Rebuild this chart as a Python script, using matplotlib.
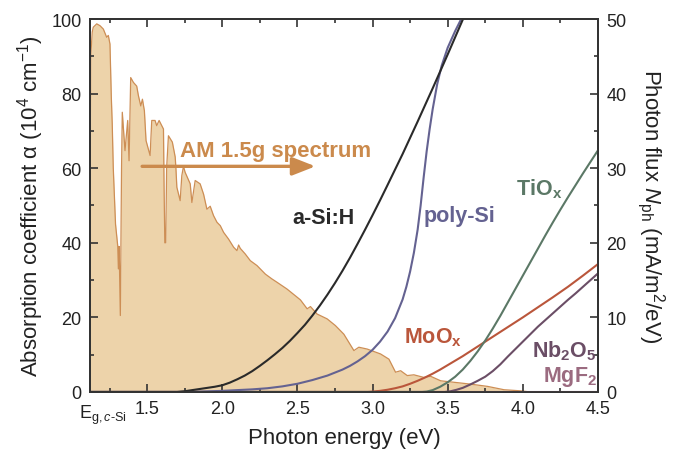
import numpy as np
import matplotlib
matplotlib.use('Agg')
import matplotlib.pyplot as plt
from matplotlib.ticker import MultipleLocator, FixedLocator

plt.rcParams['font.family'] = ['Liberation Sans', 'DejaVu Sans']
plt.rcParams['mathtext.fontset'] = 'custom'
plt.rcParams['mathtext.rm'] = 'Liberation Sans'
plt.rcParams['mathtext.it'] = 'Liberation Sans:italic'
plt.rcParams['mathtext.bf'] = 'Liberation Sans:bold'

# AM 1.5g photon flux (mA/m^2/eV) vs photon energy (eV)
am_E = [1.120, 1.125, 1.135, 1.142, 1.165, 1.187, 1.209, 1.231, 1.242, 1.253,
        1.262, 1.268, 1.275, 1.290, 1.305, 1.309, 1.314, 1.322, 1.330, 1.335,
        1.353, 1.371, 1.380, 1.391, 1.409, 1.431, 1.442, 1.458, 1.469, 1.482,
        1.493, 1.520, 1.531, 1.553, 1.564, 1.580, 1.609, 1.613, 1.618, 1.624,
        1.630, 1.642, 1.668, 1.687, 1.692, 1.698, 1.720, 1.731, 1.742, 1.753,
        1.787, 1.798, 1.820, 1.853, 1.876, 1.898, 1.920, 1.942, 1.965, 1.987,
        2.009, 2.042, 2.076, 2.098, 2.109, 2.120, 2.153, 2.187, 2.231, 2.287,
        2.331, 2.365, 2.431, 2.520, 2.565, 2.587, 2.631, 2.698, 2.753, 2.809,
        2.876, 2.909, 2.965, 3.053, 3.109, 3.153, 3.187, 3.231, 3.275, 3.342,
        3.387, 3.453, 3.542, 3.653, 3.765, 3.875, 3.987, 4.05, 4.5]
am_flux = [27.5, 45.0, 48.25, 48.9, 49.35, 49.1, 48.65, 47.55, 47.8, 46.65,
           39.5, 36.0, 30.0, 22.5, 19.5, 16.5, 19.5, 10.25, 30.0, 37.5,
           32.35, 36.4, 31.0, 42.15, 41.5, 41.0, 39.75, 38.35, 39.25, 37.7,
           33.7, 31.7, 36.4, 36.4, 35.7, 36.4, 35.25, 27.5, 20.0, 20.0,
           30.0, 34.35, 33.5, 31.5, 29.9, 27.45, 25.65, 29.0, 30.25, 29.45,
           27.9, 25.4, 28.35, 27.9, 26.5, 24.5, 24.9, 23.65, 22.75, 22.3,
           21.4, 20.5, 19.4, 18.95, 19.7, 19.25, 18.5, 17.6, 16.95, 15.8,
           15.15, 14.7, 13.8, 12.35, 11.15, 11.45, 10.45, 9.8, 8.9, 7.75,
           5.55, 6.0, 5.75, 5.1, 4.4, 2.65, 2.85, 2.2, 2.3, 1.95,
           2.1, 1.5, 1.3, 1.05, 0.75, 0.3, 0.15, 0.0, 0.0]

# absorption coefficients (1e4 cm^-1)
asi_E = [1.12, 1.70, 1.75, 1.80, 1.85, 1.90, 1.95, 2.00, 2.05, 2.10, 2.15,
         2.20, 2.25, 2.30, 2.35, 2.40, 2.45, 2.50, 2.55, 2.60, 2.65, 2.70,
         2.75, 2.80, 2.85, 2.90, 2.95, 3.00, 3.05, 3.10, 3.20, 3.30, 3.40,
         3.50, 3.60, 3.62]
asi_a = [0, 0, 0.2, 0.5, 0.8, 1.1, 1.4, 1.8, 2.5, 3.4, 4.4, 5.6, 7.0, 8.5,
         10.1, 11.8, 13.7, 15.8, 18.0, 20.5, 23.2, 26.1, 29.2, 32.5, 36.0,
         39.7, 43.5, 47.4, 51.4, 55.5, 63.8, 72.5, 81.4, 90.5, 99.8, 102]
psi_E = [1.12, 1.75, 1.85, 2.0, 2.1, 2.2, 2.3, 2.4, 2.5, 2.6, 2.7, 2.8, 2.85,
         2.9, 2.95, 3.0, 3.05, 3.1, 3.15, 3.2, 3.225, 3.25, 3.275, 3.30, 3.32,
         3.34, 3.36, 3.38, 3.40, 3.43, 3.46, 3.50, 3.55, 3.60]
psi_a = [0, 0, 0.1, 0.3, 0.5, 0.7, 1.0, 1.5, 2.2, 3.2, 4.4, 6.0, 7.0, 8.2,
         9.6, 11.3, 13.5, 16.2, 19.8, 24.8, 28.2, 32.3, 37.3, 43.5, 50.0,
         57.5, 64.5, 70.5, 75.8, 82.5, 87.5, 92.3, 96.8, 100.8]
tio_E = [1.12, 3.33, 3.36, 3.40, 3.45, 3.50, 3.55, 3.60, 3.65, 3.70, 3.75,
         3.80, 3.85, 3.90, 3.95, 4.00, 4.05, 4.10, 4.15, 4.20, 4.25, 4.30,
         4.35, 4.40, 4.45, 4.50]
tio_a = [0, 0, 0.1, 0.5, 1.4, 2.6, 4.1, 6.0, 8.3, 10.9, 13.8, 17.0, 20.4,
         24.0, 27.6, 31.2, 34.8, 38.4, 42.0, 45.5, 48.9, 52.2, 55.4, 58.6,
         61.7, 64.8]
moo_E = [1.12, 2.97, 3.00, 3.05, 3.10, 3.15, 3.20, 3.25, 3.30, 3.35, 3.40,
         3.45, 3.50, 3.55, 3.60, 3.65, 3.70, 3.75, 3.80, 3.85, 3.90, 3.95,
         4.00, 4.10, 4.20, 4.30, 4.40, 4.50]
moo_a = [0, 0, 0.1, 0.3, 0.6, 1.0, 1.5, 2.2, 3.0, 3.9, 4.9, 6.0, 7.2, 8.4,
         9.6, 10.9, 12.2, 13.5, 14.8, 16.1, 17.4, 18.7, 20.0, 22.7, 25.4,
         28.2, 31.2, 34.3]
nbo_E = [1.12, 3.48, 3.52, 3.56, 3.60, 3.65, 3.70, 3.75, 3.80, 3.85, 3.90,
         3.95, 4.00, 4.05, 4.10, 4.15, 4.20, 4.25, 4.30, 4.35, 4.40, 4.45,
         4.50]
nbo_a = [0, 0, 0.2, 0.6, 1.1, 2.0, 3.0, 4.1, 5.6, 7.4, 9.5, 11.5, 13.5, 15.5,
         17.5, 19.3, 21.1, 22.9, 24.7, 26.4, 28.2, 30.0, 31.8]
mgf_E = [1.12, 4.5]
mgf_a = [0, 0]

xticks = [1.5, 2.0, 2.5, 3.0, 3.5, 4.0, 4.5]
eg = 1.12

fillc = '#EDD3AA'
edgec = '#CD8E55'
txtc = '#CB8A4C'
axc = '#333333'

fig = plt.figure(figsize=(6.76, 4.6), dpi=100)
ax = fig.add_axes([0.1331, 0.1457, 0.7515, 0.8108])
ax2 = ax.twinx()
ax.set_zorder(ax2.get_zorder() + 1)
ax.patch.set_visible(False)

ax2.fill_between(am_E, am_flux, color=fillc, lw=0)
ax2.plot(am_E, am_flux, color=edgec, lw=0.9)

lw = 1.5
ax.plot(mgf_E, mgf_a, color='#9B6B80', lw=lw)
ax.plot(nbo_E, nbo_a, color='#6B4E66', lw=lw)
ax.plot(moo_E, moo_a, color='#BA563B', lw=lw)
ax.plot(tio_E, tio_a, color='#5B7866', lw=lw)
ax.plot(psi_E, psi_a, color='#646291', lw=lw)
ax.plot(asi_E, asi_a, color='#2A2A2A', lw=lw)

ax.set_xlim(eg, 4.5)
ax.set_ylim(0, 100)
ax2.set_ylim(0, 50)

ax.xaxis.set_major_locator(FixedLocator(xticks))
ax.xaxis.set_minor_locator(FixedLocator([1.25, 1.75, 2.25, 2.75, 3.25, 3.75, 4.25]))
ax.yaxis.set_major_locator(MultipleLocator(20))
ax.yaxis.set_minor_locator(MultipleLocator(10))
ax2.yaxis.set_major_locator(MultipleLocator(10))
ax2.yaxis.set_minor_locator(MultipleLocator(5))

for a in (ax, ax2):
    for s in a.spines.values():
        s.set_color(axc)
        s.set_linewidth(1.3)
ax.tick_params(axis='x', which='both', direction='in', top=True, bottom=True,
               color=axc, width=1.2, labelsize=13, pad=6, labelcolor='#222222')
ax.tick_params(axis='y', which='both', direction='in', left=True, right=False,
               color=axc, width=1.2, labelsize=13, pad=6, labelcolor='#222222')
ax2.tick_params(axis='y', which='both', direction='in', color=axc, width=1.2,
                labelsize=13, pad=6, labelcolor='#222222')
for a in (ax, ax2):
    a.tick_params(which='major', length=6)
    a.tick_params(which='minor', length=3)

ax.annotate(r'E$_{\mathrm{g,}\mathit{c}\mathrm{\text{-}Si}}$', xy=(eg, 0),
            xycoords=('data', 'axes fraction'), xytext=(-8, -8),
            textcoords='offset points', ha='left', va='top', fontsize=13,
            color='#222222')

ax.set_xlabel('Photon energy (eV)', fontsize=16, labelpad=7, color='#222222')
ax.set_ylabel(r'Absorption coefficient α (10$^4$ cm$^{-1}$)', fontsize=16,
              labelpad=4, color='#222222')
ax2.set_ylabel(r'Photon flux $N_{\mathrm{ph}}$ (mA/m$^2$/eV)', fontsize=16,
               rotation=270, va='bottom', labelpad=6, color='#222222')

ax.annotate('', xy=(2.62, 60.5), xytext=(1.467, 60.5),
            arrowprops=dict(arrowstyle='-|>,head_length=1.4,head_width=0.55',
                            lw=2.4, color=txtc, mutation_scale=10,
                            shrinkA=0, shrinkB=0))
ax.text(1.72, 63.3, 'AM 1.5g spectrum', color=txtc, fontsize=16,
        fontweight='bold', ha='left', va='baseline')
ax.text(2.467, 45.3, 'a-Si:H', color='#2A2A2A', fontsize=15.5,
        fontweight='bold', ha='left', va='baseline')
ax.text(3.34, 45.8, 'poly-Si', color='#646291', fontsize=15.5,
        fontweight='bold', ha='left', va='baseline')
ax.text(3.953, 53.1, r'TiO$_{\mathbf{x}}$', color='#5B7866', fontsize=15.5,
        fontweight='bold', ha='left', va='baseline')
ax.text(3.207, 13.4, r'MoO$_{\mathbf{x}}$', color='#BA563B', fontsize=15.5,
        fontweight='bold', ha='left', va='baseline')
ax.text(4.064, 9.65, r'Nb$_{\mathbf{2}}$O$_{\mathbf{5}}$', color='#6B4E66',
        fontsize=15.5, fontweight='bold', ha='left', va='baseline')
ax.text(4.137, 2.95, r'MgF$_{\mathbf{2}}$', color='#9B6B80', fontsize=15.5,
        fontweight='bold', ha='left', va='baseline')

fig.savefig('out.png', dpi=100)
